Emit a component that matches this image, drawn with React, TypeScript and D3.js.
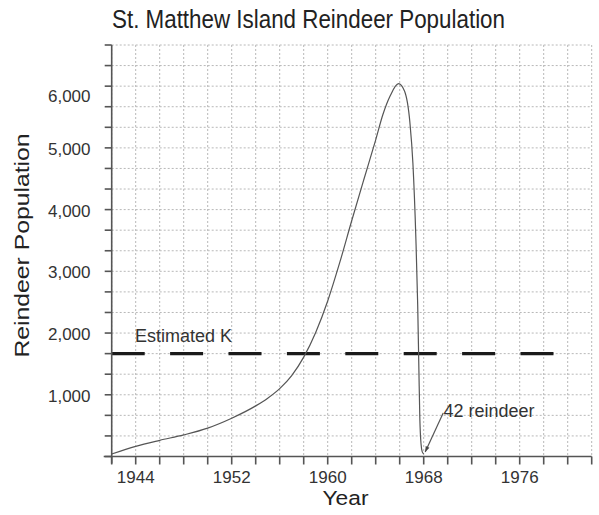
import React from "react";
import * as d3 from "d3";

const years = [1942, 1944, 1946, 1948, 1950, 1952, 1954, 1955, 1956, 1957, 1958, 1959, 1960, 1961, 1962, 1963, 1964, 1964.6, 1965.2, 1965.9, 1966.4, 1966.85, 1967.1, 1967.35, 1967.5, 1967.6, 1967.68, 1967.78, 1967.88, 1968];
const population = [40, 165, 262, 350, 460, 620, 820, 945, 1100, 1310, 1610, 2010, 2520, 3140, 3820, 4480, 5130, 5540, 5840, 6040, 5920, 5410, 4750, 3520, 2450, 1400, 600, 200, 75, 42];
const xTickLabels = [1944, 1952, 1960, 1968, 1976];
const yTickLabels = [1000, 2000, 3000, 4000, 5000, 6000];
const estimatedK = 5000 / 3;
const yMax = 20000 / 3;
const yMinorStep = 1000 / 3;
const xMinorStep = 2;
const xDomain = [1942, 1982];
const lowPoint = { year: 1968, value: 42, label: "42 reindeer" };

const FONT = "'Liberation Sans', Arial, Helvetica, sans-serif";

export default function App() {
  const W = 599, H = 515;
  const x = d3.scaleLinear().domain(xDomain).range([111.7, 591.7]);
  const y = d3.scaleLinear().domain([0, yMax]).range([456.5, 45]);

  const xMinor = d3.range(xDomain[0], xDomain[1] + 0.001, xMinorStep);
  const yMinor = d3.range(0, yMax + 1, yMinorStep);

  const line = d3
    .line<number>()
    .x((_, i) => x(years[i]))
    .y((d) => y(d))
    .curve(d3.curveMonotoneX);

  const x0 = x(xDomain[0]);
  const x1 = x(xDomain[1]);
  const y0 = y(0);
  const yTop = y(yMax);

  const lx = x(lowPoint.year) + 1.5;
  const ly = y(lowPoint.value) - 2;
  const tx = lx + 18;
  const ty = ly - 39;
  const ang = Math.atan2(ly - ty, lx - tx);
  const ah = 6;
  const arrow = [
    [lx, ly],
    [lx - ah * Math.cos(ang - 0.35), ly - ah * Math.sin(ang - 0.35)],
    [lx - ah * Math.cos(ang + 0.35), ly - ah * Math.sin(ang + 0.35)],
  ];

  return (
    <svg
      width={W}
      height={H}
      style={{ position: "absolute", left: 0, top: 0, background: "#fff" }}
      fontFamily={FONT}
    >
      <rect width={W} height={H} fill="#fff" />
      {/* grid */}
      <g stroke="#b8b8b8" strokeWidth={1} strokeDasharray="2,2">
        {xMinor.map((v) => (
          <line key={"gx" + v} x1={x(v)} x2={x(v)} y1={yTop} y2={y0} />
        ))}
        {yMinor.map((v, i) => (
          <line key={"gy" + i} x1={x0} x2={x1} y1={y(v)} y2={y(v)} />
        ))}
      </g>

      {/* estimated K */}
      <line
        x1={x0}
        x2={x0 + 442}
        y1={y(estimatedK)}
        y2={y(estimatedK)}
        stroke="#1a1a1a"
        strokeWidth={3.2}
        strokeDasharray="33 25.4"
      />
      <text x={135} y={342} fontSize={17.5} fill="#333" textLength={97} lengthAdjust="spacingAndGlyphs">
        Estimated K
      </text>

      {/* curve */}
      <path d={line(population) || ""} fill="none" stroke="#555" strokeWidth={1.2} />

      {/* annotation */}
      <line x1={tx} y1={ty} x2={lx} y2={ly} stroke="#555" strokeWidth={1.2} />
      <polygon points={arrow.map((p) => p.join(",")).join(" ")} fill="#444" />
      <text x={443.5} y={416.5} fontSize={17.5} fill="#333" textLength={91} lengthAdjust="spacingAndGlyphs">
        {lowPoint.label}
      </text>

      {/* axes */}
      <g stroke="#555" strokeWidth={1.6}>
        <line x1={x0} x2={x0} y1={yTop} y2={y0 + 7} />
        <line x1={x0 - 8} x2={x1} y1={y0} y2={y0} />
        {yMinor.map((v, i) => (
          <line key={"ty" + i} x1={x0 - 7} x2={x0} y1={y(v)} y2={y(v)} />
        ))}
        {xMinor.map((v) => (
          <line key={"tx" + v} x1={x(v)} x2={x(v)} y1={y0} y2={y0 + 8} />
        ))}
      </g>

      {/* tick labels */}
      <g fontSize={17} fill="#333">
        {xTickLabels.map((v) => (
          <text key={"lx" + v} x={x(v)} y={483} textAnchor="middle">
            {v}
          </text>
        ))}
        {yTickLabels.map((v) => (
          <text key={"ly" + v} x={90.5} y={y(v) + 1 + (v === 6000 ? 8.5 : 0)} textAnchor="end" dy="0.35em">
            {d3.format(",")(v)}
          </text>
        ))}
      </g>

      {/* titles */}
      <text x={112} y={28} fontSize={25} fill="#222" textLength={393} lengthAdjust="spacingAndGlyphs">
        St. Matthew Island Reindeer Population
      </text>
      <text x={322.5} y={505} fontSize={20.5} fill="#222" textLength={46} lengthAdjust="spacingAndGlyphs">
        Year
      </text>
      <text
        transform={`translate(29,${245.5}) rotate(-90)`}
        textAnchor="middle"
        fontSize={20.5}
        fill="#222"
        textLength={224}
        lengthAdjust="spacingAndGlyphs"
      >
        Reindeer Population
      </text>
    </svg>
  );
}
